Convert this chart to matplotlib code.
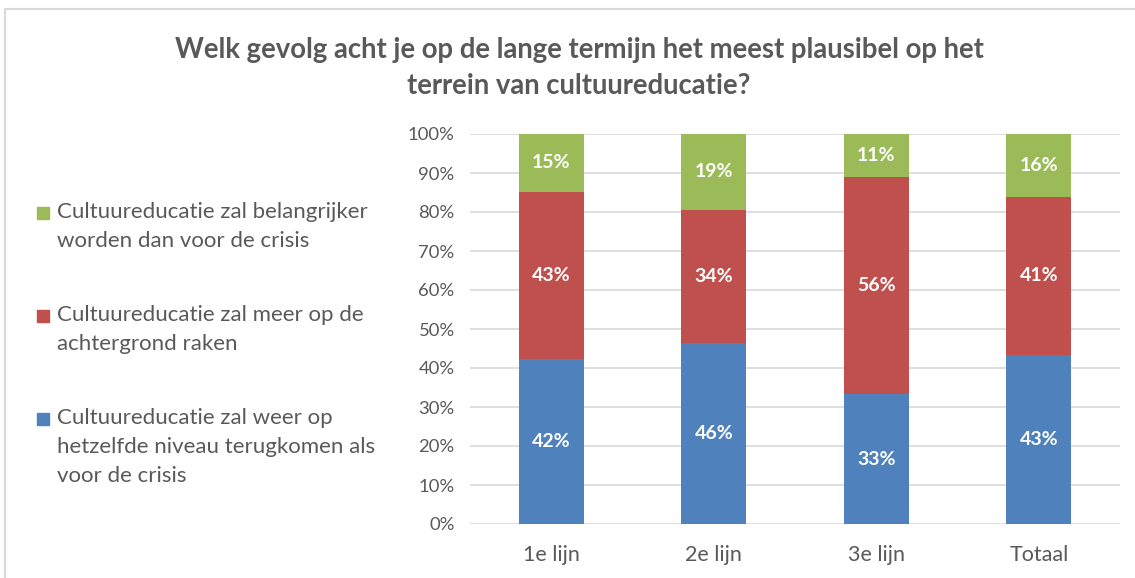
import matplotlib.pyplot as plt
from matplotlib.patches import Rectangle
import numpy as np

plt.rcParams['font.family'] = ['Lato', 'DejaVu Sans']

categories = ['1e lijn', '2e lijn', '3e lijn', 'Totaal']
zelfde_niveau = [42.4, 46.4, 33.3, 43.3]
achtergrond = [42.8, 34.2, 55.6, 40.6]
belangrijker = [14.8, 19.4, 11.1, 16.1]

series = [
    (zelfde_niveau, '#4F81BD',
     'Cultuureducatie zal weer op\nhetzelfde niveau terugkomen als\nvoor de crisis'),
    (achtergrond, '#C0504D',
     'Cultuureducatie zal meer op de\nachtergrond raken'),
    (belangrijker, '#9BBB59',
     'Cultuureducatie zal belangrijker\nworden dan voor de crisis'),
]

txt = '#595959'
W, H = 1135, 578
fig = plt.figure(figsize=(W / 100, H / 100), dpi=100)
ax = fig.add_axes([470 / W, 1 - 524 / H, 650 / W, 390 / H])

x = np.arange(len(categories))
bottom = np.zeros(len(categories))
for vals, col, lab in series:
    vals = np.array(vals)
    bars = ax.bar(x, vals, 0.4, bottom=bottom, color=col, zorder=3)
    for b, v in zip(bars, vals):
        ax.text(b.get_x() + b.get_width() / 2, b.get_y() + v / 2,
                f'{v:.0f}%', ha='center', va='center', color='white',
                fontsize=14, fontweight='bold', zorder=4)
    bottom += vals

ax.set_xlim(-0.5, len(categories) - 0.5)
ax.set_ylim(0, 100)
ax.set_yticks(range(0, 101, 10))
ax.set_yticklabels([f'{t}%' for t in range(0, 101, 10)])
ax.set_xticks(x)
ax.set_xticklabels(categories)
ax.yaxis.grid(True, color='#D9D9D9', linewidth=1.2, zorder=0)
ax.set_axisbelow(True)
for s in ax.spines.values():
    s.set_visible(False)
ax.tick_params(length=0, colors=txt)
ax.tick_params(axis='x', pad=15, labelsize=15.5)
ax.tick_params(axis='y', pad=11, labelsize=13.3)

fig.text(579 / W, 1 - 68 / H,
         'Welk gevolg acht je op de lange termijn het meest plausibel op het\nterrein van cultuureducatie?',
         ha='center', va='center', fontsize=19.8, fontweight='bold',
         color=txt, linespacing=1.47)

# legend drawn manually (square next to first line)
legend_y = [213, 316, 419]
for (vals, col, lab), yy in zip(series[::-1], legend_y):
    fig.patches.append(Rectangle((37 / W, 1 - (yy + 6) / H), 12 / W, 12 / H,
                                 transform=fig.transFigure, color=col))
    fig.text(57 / W, 1 - (yy - 11) / H, lab, ha='left', va='top',
             fontsize=16, color=txt, linespacing=1.55)

# chart frame
fig.patches.append(Rectangle((5 / W, -0.1), 1.2, 1 - 9 / H + 0.1,
                             transform=fig.transFigure, fill=False,
                             edgecolor='#D9D9D9', linewidth=1.5))

fig.savefig('out.png', dpi=100)
